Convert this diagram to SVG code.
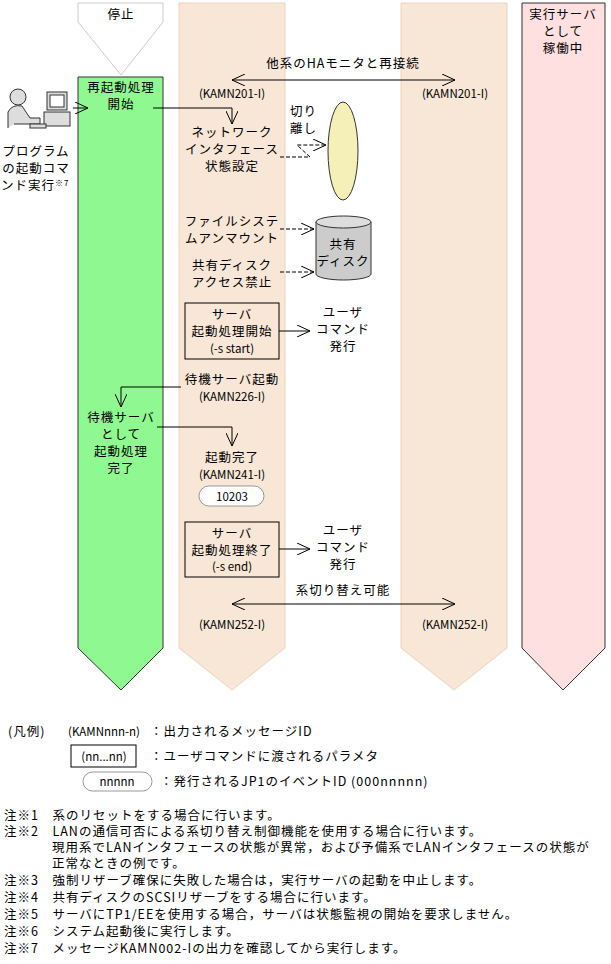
<svg xmlns="http://www.w3.org/2000/svg" width="611" height="964" viewBox="0 0 611 964">
<style>
text{font-family:"Noto Sans CJK JP","DejaVu Sans",sans-serif;font-size:12.5px;letter-spacing:1px;fill:#000}
.h{font-size:11.5px;letter-spacing:0}
.c{text-anchor:middle}
.ln{fill:none;stroke:#000;stroke-width:1}
.d{fill:none;stroke:#000;stroke-width:1;stroke-dasharray:4,2}
.bg{fill:#f8e6d6;stroke:#ecd4bc}
</style>
<defs>
<marker id="a" markerWidth="14" markerHeight="12" refX="13" refY="6" orient="auto" markerUnits="userSpaceOnUse"><path d="M0,0 L13,6 L0,12" fill="none" stroke="#000"/></marker>
<marker id="s" markerWidth="14" markerHeight="12" refX="1" refY="6" orient="auto" markerUnits="userSpaceOnUse"><path d="M14,0 L1,6 L14,12" fill="none" stroke="#000"/></marker>
</defs>
<g id="lanes">
<path d="M78,3 H163 V22 L121,75 L78,22 Z" fill="#fff" stroke="#ccc"/>
<path d="M78,77 H163 V648 L121,690 L78,648 Z" fill="#90f890" stroke="#333"/>
<path class="bg" d="M179,3 H285 V648 L232,690 L179,648 Z"/>
<path class="bg" d="M401,3 H507 V648 L454,690 L401,648 Z"/>
<path d="M522,3 H605 V648 L563,690 L522,648 Z" fill="#ffe0e0" stroke="#333"/>
</g>
<g id="labels">
<text class="c" x="121" y="19">停止</text>
<text class="c" x="563" y="19">実行サーバ</text>
<text class="c" x="563" y="36">として</text>
<text class="c" x="563" y="53">稼働中</text>
<text class="c" x="121" y="92">再起動処理</text>
<text class="c" x="121" y="109">開始</text>
<text class="c" x="36" y="156">プログラム</text>
<text class="c" x="36" y="173">の起動コマ</text>
<text x="1" y="190">ンド実行<tspan font-size="8" dy="-4">※7</tspan></text>
<text class="c" x="343" y="68">他系のHAモニタと再接続</text>
<text class="c h" x="232" y="98">(KAMN201-I)</text>
<text class="c h" x="455" y="98">(KAMN201-I)</text>
<text class="c" x="232" y="137">ネットワーク</text>
<text class="c" x="232" y="154">インタフェース</text>
<text class="c" x="232" y="171">状態設定</text>
<text x="290" y="116">切り</text>
<text x="290" y="133">離し</text>
<text class="c" x="232" y="226">ファイルシステ</text>
<text class="c" x="232" y="243">ムアンマウント</text>
<text class="c" x="232" y="270">共有ディスク</text>
<text class="c" x="232" y="287">アクセス禁止</text>
<text class="c" x="232" y="384">待機サーバ起動</text>
<text class="c h" x="232" y="401">(KAMN226-I)</text>
<text class="c" x="121" y="422">待機サーバ</text>
<text class="c" x="121" y="439">として</text>
<text class="c" x="121" y="456">起動処理</text>
<text class="c" x="121" y="473">完了</text>
<text class="c" x="232" y="462">起動完了</text>
<text class="c h" x="232" y="479">(KAMN241-I)</text>
<text class="c" x="343" y="595">系切り替え可能</text>
<text class="c h" x="232" y="629">(KAMN252-I)</text>
<text class="c h" x="455" y="629">(KAMN252-I)</text>
<text class="c" x="343" y="317">ユーザ</text>
<text class="c" x="343" y="334">コマンド</text>
<text class="c" x="343" y="351">発行</text>
<text class="c" x="343" y="535">ユーザ</text>
<text class="c" x="343" y="552">コマンド</text>
<text class="c" x="343" y="569">発行</text>
</g>
<g id="person" fill="#ddd" stroke="#333">
<circle cx="18" cy="97" r="8"/>
<path d="M8,128 V112 Q12,104 22,106 L30,118 H40 V124 H14"/>
<rect x="47" y="92" width="20" height="18"/>
<rect x="50" y="95" width="14" height="12" fill="#fff"/>
<rect x="44" y="112" width="26" height="14"/>
<rect x="30" y="124" width="16" height="4"/>
</g>
<g id="shared">
<ellipse cx="343" cy="151" rx="15" ry="49" fill="#f5f0b8" stroke="#333"/>
<path d="M316,222 V274 A27.5,6 0 0 0 371,274 V222" fill="#ccc" stroke="#333"/>
<ellipse cx="343.5" cy="222" rx="27.5" ry="6" fill="#ddd" stroke="#333"/>
<text class="c" x="343" y="249">共有</text>
<text class="c" x="343" y="266">ディスク</text>
</g>
<g id="box1">
<rect x="185" y="303" width="94" height="56" fill="none" stroke="#000"/>
<text class="c" x="232" y="319">サーバ</text>
<text class="c" x="232" y="336">起動処理開始</text>
<text class="c h" x="232" y="353">(-s start)</text>
</g>
<g id="box2">
<rect x="185" y="522" width="94" height="55" fill="none" stroke="#000"/>
<text class="c" x="232" y="538">サーバ</text>
<text class="c" x="232" y="555">起動処理終了</text>
<text class="c h" x="232" y="571">(-s end)</text>
</g>
<g id="ev">
<rect x="199" y="486" width="65" height="20" rx="10" fill="#fff" stroke="#999"/>
<text class="c h" x="232" y="501">10203</text>
</g>
<g id="connectors">
<path class="ln" d="M455,80 H232" marker-start="url(#s)" marker-end="url(#a)"/>
<path class="ln" d="M73,108 H88" marker-end="url(#a)"/>
<path class="ln" d="M153,108 H232 V124" marker-end="url(#a)"/>
<path class="d" d="M280,157 H310 L297,145 H326" marker-end="url(#a)"/>
<path class="d" d="M280,229 H314" marker-end="url(#a)"/>
<path class="d" d="M280,272 H314" marker-end="url(#a)"/>
<path class="ln" d="M279,331 H310" marker-end="url(#a)"/>
<path class="ln" d="M181,387 H121 V407" marker-end="url(#a)"/>
<path class="ln" d="M157,427 H232 V446" marker-end="url(#a)"/>
<path class="ln" d="M279,549 H310" marker-end="url(#a)"/>
<path class="ln" d="M232,604 H455" marker-start="url(#s)" marker-end="url(#a)"/>
</g>
<g id="legend">
<text x="8" y="736">(凡例)</text>
<text class="c h" x="104" y="736">(KAMNnnn-n)</text>
<text x="150" y="736">：出力されるメッセージID</text>
<rect x="71" y="745" width="65" height="22" fill="none" stroke="#000"/>
<text class="c h" x="104" y="761">(nn...nn)</text>
<text x="150" y="761">：ユーザコマンドに渡されるパラメタ</text>
<rect x="83" y="772" width="69" height="19" rx="9.5" fill="#fff" stroke="#999"/>
<text class="c h" x="117" y="786">nnnnn</text>
<text x="160" y="786">：発行されるJP1のイベントID (000nnnnn)</text>
</g>
<g id="notes">
<text x="4" y="820">注※1　系のリセットをする場合に行います。</text>
<text x="4" y="836">注※2　LANの通信可否による系切り替え制御機能を使用する場合に行います。</text>
<text x="52" y="852">現用系でLANインタフェースの状態が異常，および予備系でLANインタフェースの状態が</text>
<text x="52" y="868">正常なときの例です。</text>
<text x="4" y="885">注※3　強制リザーブ確保に失敗した場合は，実行サーバの起動を中止します。</text>
<text x="4" y="902">注※4　共有ディスクのSCSIリザーブをする場合に行います。</text>
<text x="4" y="919">注※5　サーバにTP1/EEを使用する場合，サーバは状態監視の開始を要求しません。</text>
<text x="4" y="936">注※6　システム起動後に実行します。</text>
<text x="4" y="953">注※7　メッセージKAMN002-Iの出力を確認してから実行します。</text>
</g>
</svg>
